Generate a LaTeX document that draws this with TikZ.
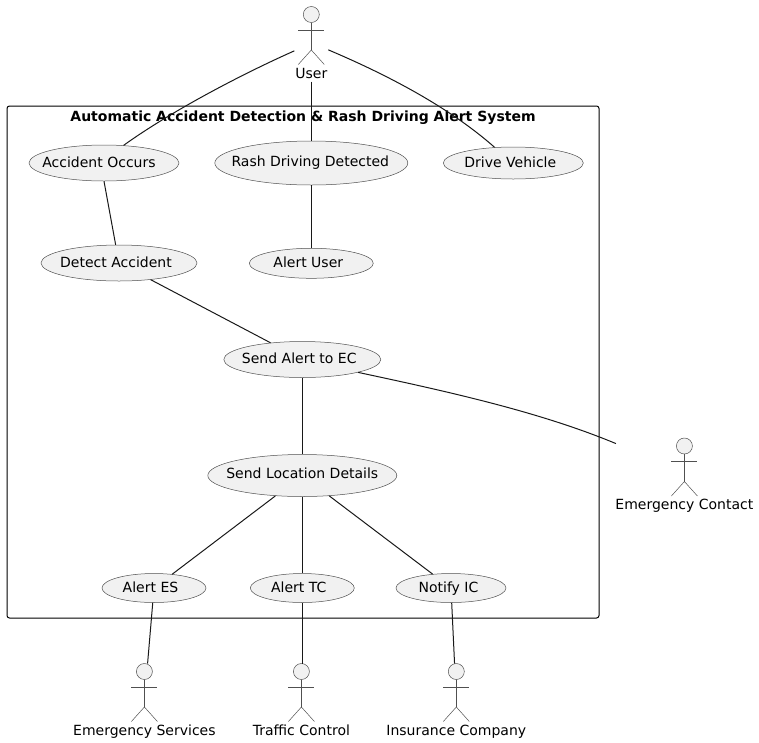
\documentclass[tikz,border=0pt]{standalone}
\usepackage{fontspec}
\setmainfont{DejaVu Sans}
\usetikzlibrary{shapes.geometric}
\definecolor{mfill}{HTML}{F1F1F1}
\definecolor{mline}{HTML}{181818}
\definecolor{mthin}{HTML}{505050}

\tikzset{
  usecase/.style={ellipse, draw=mthin, fill=mfill, line width=0.5pt, inner sep=0pt, text height=10pt, text depth=2pt},
  actorbox/.style={minimum height=75pt, minimum width=#1, inner sep=0pt, outer sep=0pt},
  stick/.style={draw=mthin, line width=0.5pt},
  link/.style={draw=mline, line width=1pt}
}

% text that takes no room in its ellipse, the option moves it sideways by half its value
\newcommand{\uctext}[2][0pt]{\makebox[0pt]{\hspace*{#1}#2}}

% stick figure and its label, hung from the top of the actor's box
\newcommand{\stickman}[2]{
  \begin{scope}[shift={(#1.north)}]
    \draw [stick, fill=mfill] (0, 8) circle (8pt);
    \draw [stick] (0, 16) -- (0, 43.5);
    \draw [stick] (-13, 23.5) -- (13, 23.5);
    \draw [stick] (-13, 58) -- (0, 43.5) -- (13, 58);
    \node [inner sep=0pt, text height=10pt, text depth=3pt] (#1-label) at (0, 68) {#2};
  \end{scope}
}

\begin{document}
\begin{tikzpicture}[x=1pt, y=-1pt, font=\fontsize{14}{16}\selectfont]
    \useasboundingbox (0, 0) rectangle (759, 742);

    \node [draw, line width=1pt, rounded corners=2.5pt, minimum width=592pt, minimum height=512pt, inner sep=0pt] (system) at (303, 362) {};
    \node [inner sep=0pt, text height=10pt, text depth=3pt, font=\fontsize{14}{16}\selectfont\bfseries] (title) at (303, 117.5) {Automatic Accident Detection \& Rash Driving Alert System};

    \node [usecase, minimum width=150pt, minimum height=36pt] (accident) at (104, 163) {\uctext[-10pt]{Accident Occurs}};
    \node [usecase, minimum width=193pt, minimum height=44pt, text depth=4pt] (rash) at (311.3, 163) {\uctext[-2pt]{Rash Driving Detected}};
    \node [usecase, minimum width=140pt, minimum height=32pt] (drive) at (513.3, 163) {\uctext[-6pt]{Drive Vehicle}};
    \node [usecase, minimum width=156pt, minimum height=36pt] (detect) at (119, 263) {\uctext[-6pt]{Detect Accident}};
    \node [usecase, minimum width=124pt, minimum height=30pt] (alertuser) at (311.3, 263.3) {\uctext[-6pt]{Alert User}};
    \node [usecase, minimum width=157pt, minimum height=36pt] (sendec) at (302.3, 359.5) {\uctext[-6pt]{Send Alert to EC}};
    \node [usecase, minimum width=189pt, minimum height=42pt, text depth=5pt] (sendloc) at (302.3, 475.5) {\uctext{Send Location Details}};
    \node [usecase, minimum width=104pt, minimum height=29pt] (alertes) at (154, 588) {\uctext[-7pt]{Alert ES}};
    \node [usecase, minimum width=104pt, minimum height=29pt] (alerttc) at (302.3, 588) {\uctext[-7pt]{Alert TC}};
    \node [usecase, minimum width=110pt, minimum height=29pt] (notifyic) at (451, 588) {\uctext[-5pt]{Notify IC}};

    \node [actorbox=34pt] (user) at (311.3, 44) {};
    \node [actorbox=137pt] (contact) at (684.4, 475.5) {};
    \node [actorbox=143pt] (services) at (144.4, 701) {};
    \node [actorbox=129pt] (traffic) at (301.4, 701) {};
    \node [actorbox=139pt] (insurance) at (456.3, 701) {};

    \stickman{user}{User}
    \stickman{contact}{Emergency Contact}
    \stickman{services}{Emergency Services}
    \stickman{traffic}{Traffic Control}
    \stickman{insurance}{Insurance Company}

    \draw [link] (user.202) .. controls (240, 75) and (170, 112) .. (accident.42.5);
    \draw [link] (user) -- (rash);
    \draw [link] (user.-19) .. controls (390, 76) and (450, 108) .. (drive.140);
    \draw [link] (accident.south) -- (detect);
    \draw [link] (rash) -- (alertuser);
    \draw [link] (detect) -- (sendec);
    \draw [link] (sendec) -- (sendloc);
    \draw [link] (sendec.-13.5) .. controls (450, 392) and (540, 412) .. (contact.155);
    \draw [link] (sendloc) -- (alertes);
    \draw [link] (sendloc) -- (alerttc);
    \draw [link] (sendloc) -- (notifyic);
    \draw [link] (alertes) -- (services);
    \draw [link] (alerttc.south) -- (alerttc.south |- traffic.north);
    \draw [link] (notifyic) -- (insurance);
\end{tikzpicture}
\end{document}
